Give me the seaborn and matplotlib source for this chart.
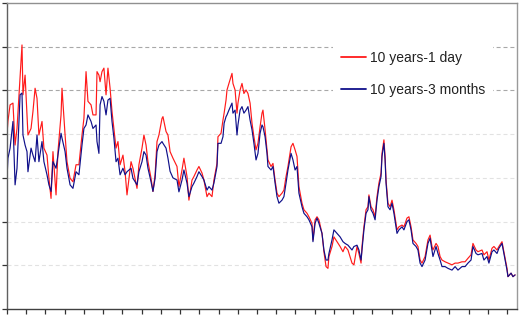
import matplotlib
matplotlib.use("Agg")
import matplotlib.pyplot as plt
import seaborn as sns
import pandas as pd

# x in tick units (one unit = one tick interval on the time axis)
period = [0.00, 0.05, 0.16, 0.31, 0.42, 0.52, 0.68, 0.78, 0.83, 0.94, 1.04, 1.09, 1.25, 1.35, 1.46, 1.56,
          1.66, 1.82, 1.92, 2.08, 2.18, 2.29, 2.39, 2.55, 2.65, 2.81, 2.86, 3.02, 3.12, 3.28, 3.43, 3.59,
          3.74, 3.90, 4.00, 4.11, 4.21, 4.37, 4.47, 4.63, 4.68, 4.78, 4.84, 4.94, 5.04, 5.15, 5.25, 5.36,
          5.46, 5.56, 5.67, 5.77, 5.88, 6.03, 6.14, 6.24, 6.45, 6.55, 6.76, 6.86, 7.02, 7.12, 7.23, 7.33,
          7.49, 7.59, 7.70, 7.80, 7.90, 8.06, 8.11, 8.27, 8.37, 8.48, 8.63, 8.84, 8.94, 9.10, 9.20, 9.36,
          9.46, 9.62, 9.72, 9.88, 9.98, 10.14, 10.24, 10.40, 10.50, 10.66, 10.76, 10.92, 10.97, 11.13, 11.23, 11.29,
          11.39, 11.44, 11.54, 11.70, 11.75, 11.86, 11.96, 12.01, 12.12, 12.22, 12.32, 12.43, 12.53, 12.64, 12.74, 12.84,
          12.95, 13.05, 13.16, 13.26, 13.31, 13.42, 13.52, 13.57, 13.73, 13.83, 13.94, 14.04, 14.14, 14.30, 14.40, 14.51,
          14.61, 14.77, 14.87, 14.98, 15.08, 15.18, 15.34, 15.44, 15.60, 15.70, 15.86, 15.91, 16.02, 16.12, 16.22, 16.38,
          16.48, 16.59, 16.69, 16.74, 16.90, 17.00, 17.16, 17.32, 17.47, 17.58, 17.73, 17.94, 18.04, 18.20, 18.30, 18.41,
          18.46, 18.56, 18.67, 18.77, 18.82, 18.93, 19.03, 19.14, 19.24, 19.34, 19.45, 19.50, 19.60, 19.66, 19.71, 19.81,
          19.92, 20.02, 20.12, 20.28, 20.38, 20.54, 20.64, 20.80, 20.90, 21.01, 21.11, 21.27, 21.37, 21.48, 21.58, 21.74,
          21.89, 22.00, 22.10, 22.15, 22.31, 22.41, 22.52, 22.62, 22.78, 22.93, 23.14, 23.30, 23.45, 23.66, 23.82, 23.97,
          24.13, 24.23, 24.39, 24.49, 24.70, 24.80, 24.96, 25.06, 25.22, 25.32, 25.48, 25.58, 25.74, 25.84, 26.00, 26.05,
          26.21, 26.31, 26.42]

spread_3m = [3.00, 3.45, 3.68, 4.29, 2.84, 3.22, 4.90, 4.94, 3.98, 3.75, 3.60, 3.14, 3.68, 3.52, 3.37, 3.98,
             3.37, 3.83, 3.37, 3.07, 2.84, 2.69, 3.37, 3.22, 3.52, 4.02, 3.91, 3.60, 3.22, 2.84, 2.76, 3.14,
             3.07, 3.75, 4.13, 4.21, 4.44, 4.29, 4.13, 4.21, 3.83, 3.56, 4.67, 4.86, 4.75, 4.44, 4.78, 4.82,
             4.29, 3.91, 3.37, 3.45, 3.07, 3.22, 3.07, 3.14, 3.22, 2.99, 2.84, 3.14, 3.37, 3.60, 3.52, 3.22,
             2.91, 2.69, 2.99, 3.60, 3.75, 3.83, 3.79, 3.68, 3.45, 3.15, 3.00, 2.95, 2.68, 2.95, 3.18, 2.88,
             2.57, 2.80, 2.88, 3.03, 3.14, 3.03, 2.95, 2.72, 2.80, 2.72, 2.88, 3.26, 3.79, 3.79, 3.94, 4.25,
             4.40, 4.44, 4.55, 4.71, 4.48, 4.55, 3.98, 4.21, 4.55, 4.63, 4.48, 4.55, 4.63, 4.32, 4.10, 3.79,
             3.41, 3.56, 4.02, 4.21, 4.17, 3.94, 3.56, 3.26, 3.18, 3.26, 2.88, 2.57, 2.42, 2.49, 2.57, 2.88,
             3.18, 3.56, 3.41, 3.18, 3.26, 2.65, 2.34, 2.19, 2.11, 2.04, 1.88, 1.54, 1.96, 2.08, 1.96, 1.73,
             1.35, 1.12, 1.12, 1.27, 1.58, 1.81, 1.73, 1.65, 1.54, 1.50, 1.46, 1.35, 1.43, 1.46, 1.35, 1.12,
             1.35, 1.81, 2.19, 2.27, 2.57, 2.27, 2.19, 2.04, 2.49, 2.80, 3.03, 3.49, 3.79, 3.41, 2.88, 2.34,
             2.27, 2.42, 2.19, 1.73, 1.81, 1.88, 1.81, 2.00, 2.04, 1.81, 1.50, 1.43, 1.35, 1.05, 0.97, 1.12,
             1.50, 1.62, 1.35, 1.20, 1.43, 1.27, 1.12, 0.97, 0.97, 0.93, 0.89, 0.97, 0.89, 0.97, 0.97, 1.05,
             1.12, 1.43, 1.27, 1.24, 1.27, 1.12, 1.20, 1.05, 1.31, 1.35, 1.27, 1.39, 1.50, 1.27, 0.89, 0.74,
             0.82, 0.74, 0.78]

spread_1d = [4.00, 4.30, 4.67, 4.71, 3.75, 4.13, 5.28, 6.04, 4.90, 5.35, 4.44, 3.98, 4.13, 4.52, 5.05, 4.82,
             3.98, 4.29, 3.68, 3.52, 2.99, 2.53, 3.60, 2.61, 3.60, 4.44, 5.05, 3.98, 3.37, 2.99, 2.91, 3.30,
             3.30, 3.98, 4.36, 5.43, 4.75, 4.67, 4.44, 4.44, 5.43, 5.35, 5.20, 5.43, 5.51, 4.90, 5.51, 5.05,
             4.52, 4.13, 3.68, 3.83, 3.30, 3.52, 3.14, 2.61, 3.37, 3.22, 2.76, 3.30, 3.68, 3.98, 3.75, 3.37,
             2.99, 2.69, 3.07, 3.83, 3.98, 4.36, 4.40, 4.06, 3.98, 3.60, 3.45, 3.26, 2.80, 3.18, 3.45, 3.03,
             2.49, 2.95, 3.03, 3.18, 3.26, 3.11, 2.95, 2.57, 2.65, 2.57, 2.95, 3.33, 3.94, 4.02, 4.32, 4.48,
             4.78, 5.01, 5.16, 5.39, 5.16, 5.01, 4.48, 4.71, 5.01, 5.16, 4.93, 5.01, 4.93, 4.71, 4.25, 3.94,
             3.64, 3.79, 4.17, 4.48, 4.55, 4.10, 3.64, 3.41, 3.26, 3.33, 2.95, 2.65, 2.57, 2.65, 2.72, 3.03,
             3.26, 3.71, 3.79, 3.64, 3.49, 2.80, 2.42, 2.27, 2.19, 2.11, 1.96, 1.58, 2.04, 2.11, 2.04, 1.73,
             1.31, 0.97, 0.93, 1.20, 1.43, 1.65, 1.54, 1.43, 1.31, 1.43, 1.35, 1.05, 1.01, 1.43, 1.27, 1.05,
             1.43, 1.88, 2.27, 2.34, 2.61, 2.34, 2.27, 2.11, 2.57, 2.88, 3.11, 3.56, 3.87, 3.49, 2.95, 2.42,
             2.34, 2.49, 2.27, 1.81, 1.88, 1.92, 1.88, 2.08, 2.11, 1.88, 1.58, 1.50, 1.43, 1.12, 1.05, 1.20,
             1.58, 1.69, 1.43, 1.35, 1.50, 1.43, 1.20, 1.12, 1.08, 1.05, 1.01, 1.05, 1.05, 1.08, 1.08, 1.16,
             1.24, 1.50, 1.35, 1.31, 1.35, 1.24, 1.31, 1.12, 1.39, 1.43, 1.35, 1.43, 1.54, 1.31, 0.93, 0.74,
             0.82, 0.74, 0.78]

series_names = ["10 years-1 day", "10 years-3 months"]
x_tick_positions = list(range(0, 27))
x_tick_labels = ["Jan-90", "Jan-91", "Jan-92", "Jan-93", "Jan-94", "Jan-95", "Jan-96",
                 "Jan-97", "Jan-98", "Jan-99", "Jan-00", "Jan-01", "Jan-02", "Jan-03"]
y_ticks = [0, 1, 2, 3, 4, 5, 6, 7]

df = pd.concat([
    pd.DataFrame({"period": period, "spread": spread_1d, "series": series_names[0]}),
    pd.DataFrame({"period": period, "spread": spread_3m, "series": series_names[1]}),
])

sns.set_style("white")
plt.rcParams["font.family"] = ["Liberation Sans", "DejaVu Sans"]

fig = plt.figure(figsize=(5.23, 3.21), dpi=100)
ax = fig.add_axes([7 / 523, 12 / 321, 510 / 523, 306 / 321])

sns.lineplot(data=df, x="period", y="spread", hue="series", hue_order=series_names,
             palette=["#ff1a1a", "#10108a"], estimator=None, sort=False,
             linewidth=0.85, ax=ax, legend=True)

ax.set_xlim(0, 26.52)
ax.set_ylim(0, 7)
ax.set_yticks(y_ticks)
ax.set_yticklabels([""] * len(y_ticks))
ax.set_xticks(x_tick_positions)
labels = []
for i in x_tick_positions:
    labels.append(x_tick_labels[i // 2] if i % 2 == 0 else "")
ax.set_xticklabels(labels, rotation=90, fontsize=10, color="#222222")
ax.set_xlabel("")
ax.set_ylabel("")

ax.tick_params(axis="both", direction="out", length=3.6, width=0.9, color="#333333")
ax.tick_params(axis="x", bottom=True, pad=3.5)
ax.tick_params(axis="y", left=True)

# gridlines
ax.set_axisbelow(True)
for v in y_ticks[1:7]:
    col = "#a8a8a8" if v >= 5 else "#e2e2e2"
    ax.axhline(v, color=col, linewidth=0.8, linestyle=(0, (3.6, 2.6)), zorder=0)

for side, col, lw in [("left", "#606060", 1.0), ("bottom", "#404040", 1.0),
                      ("top", "#909090", 1.0), ("right", "#9a9a9a", 1.0)]:
    ax.spines[side].set_visible(True)
    ax.spines[side].set_color(col)
    ax.spines[side].set_linewidth(lw)

handles, lbls = ax.get_legend_handles_labels()
ax.legend(handles=handles, labels=lbls, loc="upper left",
          bbox_to_anchor=(333 / 523, (321 - 43) / 321), bbox_transform=fig.transFigure,
          frameon=True, facecolor="white", edgecolor="none", framealpha=1.0,
          fontsize=10, handlelength=1.8, handletextpad=0.35, labelspacing=1.32,
          borderpad=0.55, borderaxespad=0.0, fancybox=False, labelcolor="#222222")
for line in ax.get_legend().get_lines():
    line.set_linewidth(1.3)

fig.savefig("out.png", dpi=100)
